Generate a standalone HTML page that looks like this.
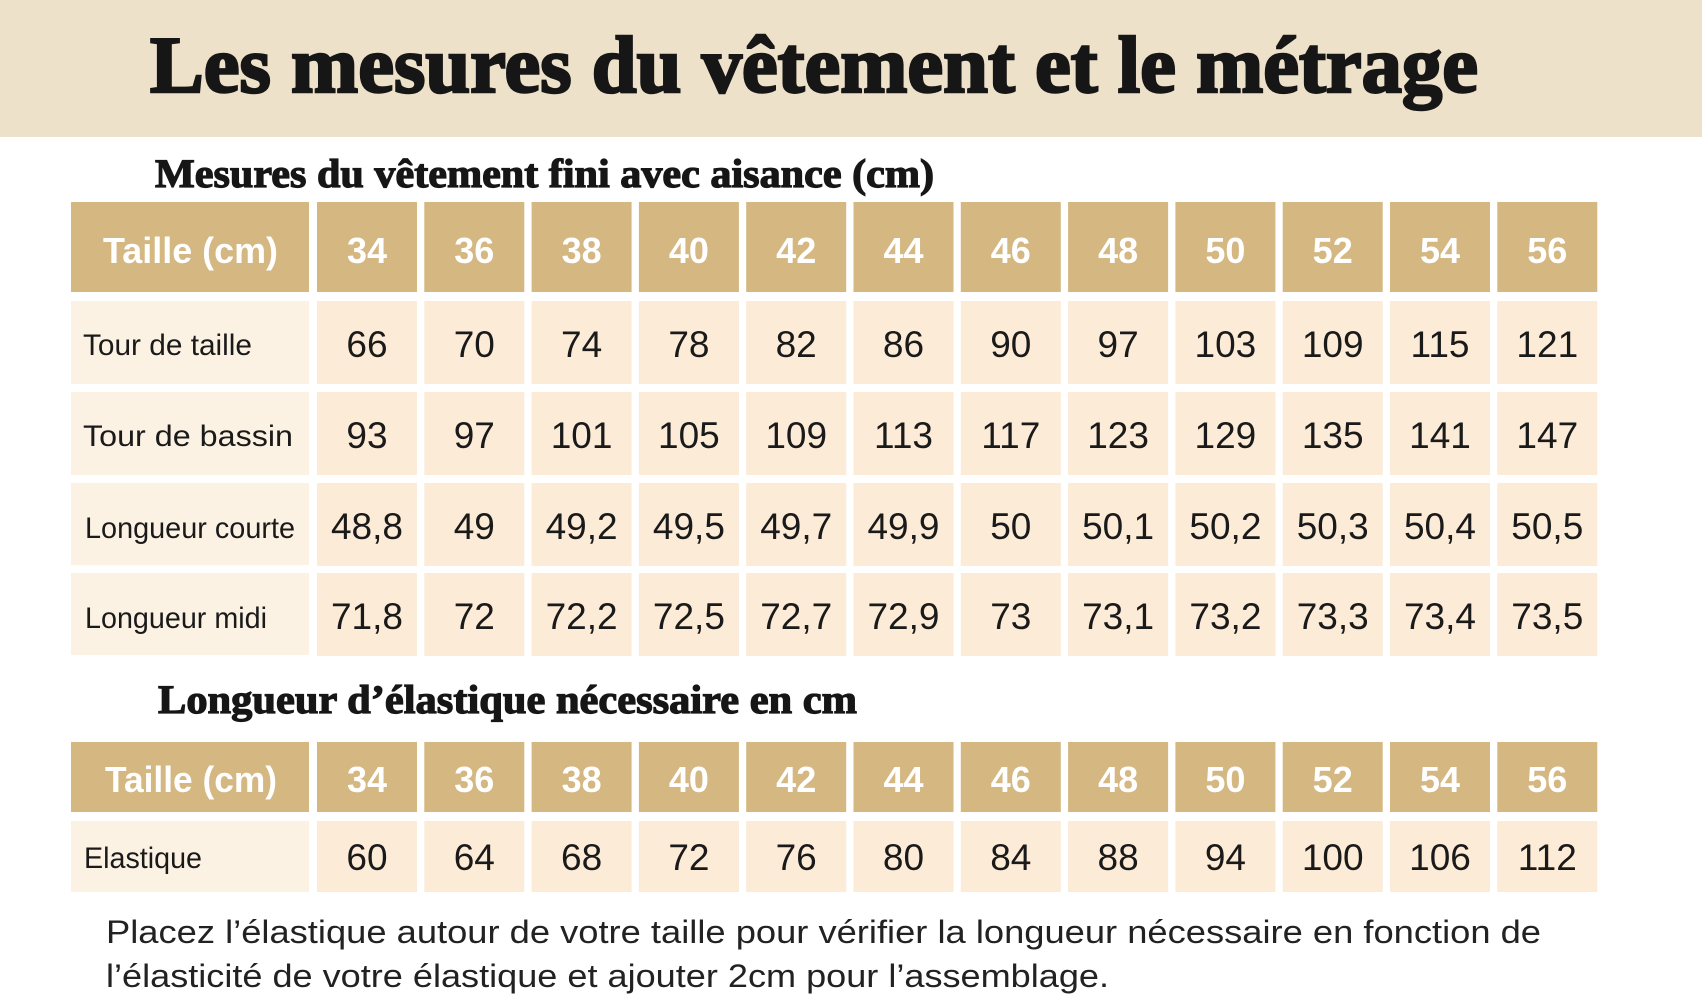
<!DOCTYPE html>
<html><head><meta charset="utf-8"><style>
html,body{margin:0;padding:0;background:#fff;}
svg{display:block;}
.t{font-family:"Liberation Serif",serif;font-weight:bold;fill:#161616;stroke:#161616;}
.h{font-family:"Liberation Sans",sans-serif;font-weight:bold;fill:#fff;font-size:36px;text-anchor:middle;}
.n{font-family:"Liberation Sans",sans-serif;fill:#1a1a1a;font-size:37px;text-anchor:middle;}
.l{font-family:"Liberation Sans",sans-serif;fill:#1a1a1a;font-size:30px;}
.f{font-family:"Liberation Sans",sans-serif;fill:#222;font-size:32px;}
</style></head><body>
<svg width="1702" height="1000" viewBox="0 0 1702 1000" xmlns="http://www.w3.org/2000/svg">
<rect x="0" y="0" width="1702" height="137" fill="#EEE1CA"/>
<text class="t" x="150" y="92" font-size="80" stroke-width="2.5" textLength="1328" lengthAdjust="spacingAndGlyphs">Les mesures du vêtement et le métrage</text>
<text class="t" x="155" y="187" font-size="40" stroke-width="1.2" textLength="779" lengthAdjust="spacingAndGlyphs">Mesures du vêtement fini avec aisance (cm)</text>
<text class="t" x="158" y="713" font-size="40" stroke-width="1.2" textLength="699" lengthAdjust="spacingAndGlyphs">Longueur d’élastique nécessaire en cm</text>

<g fill="#D4B781">
<rect x="71" y="202" width="238" height="90"/>
<rect x="317" y="202" width="100" height="90"/><rect x="424.3" y="202" width="100" height="90"/><rect x="531.6" y="202" width="100" height="90"/><rect x="638.9" y="202" width="100" height="90"/><rect x="746.2" y="202" width="100" height="90"/><rect x="853.5" y="202" width="100" height="90"/><rect x="960.8" y="202" width="100" height="90"/><rect x="1068.1" y="202" width="100" height="90"/><rect x="1175.4" y="202" width="100" height="90"/><rect x="1282.7" y="202" width="100" height="90"/><rect x="1390" y="202" width="100" height="90"/><rect x="1497.3" y="202" width="100" height="90"/>
<rect x="71" y="742" width="238" height="70"/>
<rect x="317" y="742" width="100" height="70"/><rect x="424.3" y="742" width="100" height="70"/><rect x="531.6" y="742" width="100" height="70"/><rect x="638.9" y="742" width="100" height="70"/><rect x="746.2" y="742" width="100" height="70"/><rect x="853.5" y="742" width="100" height="70"/><rect x="960.8" y="742" width="100" height="70"/><rect x="1068.1" y="742" width="100" height="70"/><rect x="1175.4" y="742" width="100" height="70"/><rect x="1282.7" y="742" width="100" height="70"/><rect x="1390" y="742" width="100" height="70"/><rect x="1497.3" y="742" width="100" height="70"/>
</g>
<g fill="#FCF2E3">
<rect x="71" y="301" width="238" height="83"/><rect x="71" y="392" width="238" height="83"/><rect x="71" y="483" width="238" height="82"/><rect x="71" y="573" width="238" height="82"/><rect x="71" y="821" width="238" height="71"/>
</g>
<g fill="#FCEBD6">
<g id="r1"><rect x="317" y="301" width="100" height="83"/><rect x="424.3" y="301" width="100" height="83"/><rect x="531.6" y="301" width="100" height="83"/><rect x="638.9" y="301" width="100" height="83"/><rect x="746.2" y="301" width="100" height="83"/><rect x="853.5" y="301" width="100" height="83"/><rect x="960.8" y="301" width="100" height="83"/><rect x="1068.1" y="301" width="100" height="83"/><rect x="1175.4" y="301" width="100" height="83"/><rect x="1282.7" y="301" width="100" height="83"/><rect x="1390" y="301" width="100" height="83"/><rect x="1497.3" y="301" width="100" height="83"/></g>
<use href="#r1" y="91"/><use href="#r1" y="182"/><use href="#r1" y="272"/>
<g transform="translate(0,520)"><rect x="317" y="301" width="100" height="71"/><rect x="424.3" y="301" width="100" height="71"/><rect x="531.6" y="301" width="100" height="71"/><rect x="638.9" y="301" width="100" height="71"/><rect x="746.2" y="301" width="100" height="71"/><rect x="853.5" y="301" width="100" height="71"/><rect x="960.8" y="301" width="100" height="71"/><rect x="1068.1" y="301" width="100" height="71"/><rect x="1175.4" y="301" width="100" height="71"/><rect x="1282.7" y="301" width="100" height="71"/><rect x="1390" y="301" width="100" height="71"/><rect x="1497.3" y="301" width="100" height="71"/></g>
</g>

<text class="h" x="103" y="263" style="text-anchor:start" textLength="175" lengthAdjust="spacingAndGlyphs">Taille (cm)</text>
<text class="h" x="367" y="263">34</text><text class="h" x="474.3" y="263">36</text><text class="h" x="581.6" y="263">38</text><text class="h" x="688.9" y="263">40</text><text class="h" x="796.2" y="263">42</text><text class="h" x="903.5" y="263">44</text><text class="h" x="1010.8" y="263">46</text><text class="h" x="1118.1" y="263">48</text><text class="h" x="1225.4" y="263">50</text><text class="h" x="1332.7" y="263">52</text><text class="h" x="1440" y="263">54</text><text class="h" x="1547.3" y="263">56</text>

<text class="h" x="105" y="792" style="text-anchor:start" textLength="172" lengthAdjust="spacingAndGlyphs">Taille (cm)</text>
<text class="h" x="367" y="792">34</text><text class="h" x="474.3" y="792">36</text><text class="h" x="581.6" y="792">38</text><text class="h" x="688.9" y="792">40</text><text class="h" x="796.2" y="792">42</text><text class="h" x="903.5" y="792">44</text><text class="h" x="1010.8" y="792">46</text><text class="h" x="1118.1" y="792">48</text><text class="h" x="1225.4" y="792">50</text><text class="h" x="1332.7" y="792">52</text><text class="h" x="1440" y="792">54</text><text class="h" x="1547.3" y="792">56</text>

<text class="l" x="83" y="355" textLength="169" lengthAdjust="spacingAndGlyphs">Tour de taille</text>
<text class="l" x="83" y="446" textLength="210" lengthAdjust="spacingAndGlyphs">Tour de bassin</text>
<text class="l" x="85" y="538" textLength="210" lengthAdjust="spacingAndGlyphs">Longueur courte</text>
<text class="l" x="85" y="628" textLength="182" lengthAdjust="spacingAndGlyphs">Longueur midi</text>
<text class="l" x="84" y="868" textLength="118" lengthAdjust="spacingAndGlyphs">Elastique</text>

<text class="n" x="367" y="357">66</text><text class="n" x="474.3" y="357">70</text><text class="n" x="581.6" y="357">74</text><text class="n" x="688.9" y="357">78</text><text class="n" x="796.2" y="357">82</text><text class="n" x="903.5" y="357">86</text><text class="n" x="1010.8" y="357">90</text><text class="n" x="1118.1" y="357">97</text><text class="n" x="1225.4" y="357">103</text><text class="n" x="1332.7" y="357">109</text><text class="n" x="1440" y="357">115</text><text class="n" x="1547.3" y="357">121</text>
<text class="n" x="367" y="448">93</text><text class="n" x="474.3" y="448">97</text><text class="n" x="581.6" y="448">101</text><text class="n" x="688.9" y="448">105</text><text class="n" x="796.2" y="448">109</text><text class="n" x="903.5" y="448">113</text><text class="n" x="1010.8" y="448">117</text><text class="n" x="1118.1" y="448">123</text><text class="n" x="1225.4" y="448">129</text><text class="n" x="1332.7" y="448">135</text><text class="n" x="1440" y="448">141</text><text class="n" x="1547.3" y="448">147</text>
<text class="n" x="367" y="539">48,8</text><text class="n" x="474.3" y="539">49</text><text class="n" x="581.6" y="539">49,2</text><text class="n" x="688.9" y="539">49,5</text><text class="n" x="796.2" y="539">49,7</text><text class="n" x="903.5" y="539">49,9</text><text class="n" x="1010.8" y="539">50</text><text class="n" x="1118.1" y="539">50,1</text><text class="n" x="1225.4" y="539">50,2</text><text class="n" x="1332.7" y="539">50,3</text><text class="n" x="1440" y="539">50,4</text><text class="n" x="1547.3" y="539">50,5</text>
<text class="n" x="367" y="629">71,8</text><text class="n" x="474.3" y="629">72</text><text class="n" x="581.6" y="629">72,2</text><text class="n" x="688.9" y="629">72,5</text><text class="n" x="796.2" y="629">72,7</text><text class="n" x="903.5" y="629">72,9</text><text class="n" x="1010.8" y="629">73</text><text class="n" x="1118.1" y="629">73,1</text><text class="n" x="1225.4" y="629">73,2</text><text class="n" x="1332.7" y="629">73,3</text><text class="n" x="1440" y="629">73,4</text><text class="n" x="1547.3" y="629">73,5</text>
<text class="n" x="367" y="870">60</text><text class="n" x="474.3" y="870">64</text><text class="n" x="581.6" y="870">68</text><text class="n" x="688.9" y="870">72</text><text class="n" x="796.2" y="870">76</text><text class="n" x="903.5" y="870">80</text><text class="n" x="1010.8" y="870">84</text><text class="n" x="1118.1" y="870">88</text><text class="n" x="1225.4" y="870">94</text><text class="n" x="1332.7" y="870">100</text><text class="n" x="1440" y="870">106</text><text class="n" x="1547.3" y="870">112</text>

<text class="f" x="106" y="943" textLength="1435" lengthAdjust="spacingAndGlyphs">Placez l’élastique autour de votre taille pour vérifier la longueur nécessaire en fonction de</text>
<text class="f" x="106" y="987" textLength="1003" lengthAdjust="spacingAndGlyphs">l’élasticité de votre élastique et ajouter 2cm pour l’assemblage.</text>
</svg>
</body></html>
